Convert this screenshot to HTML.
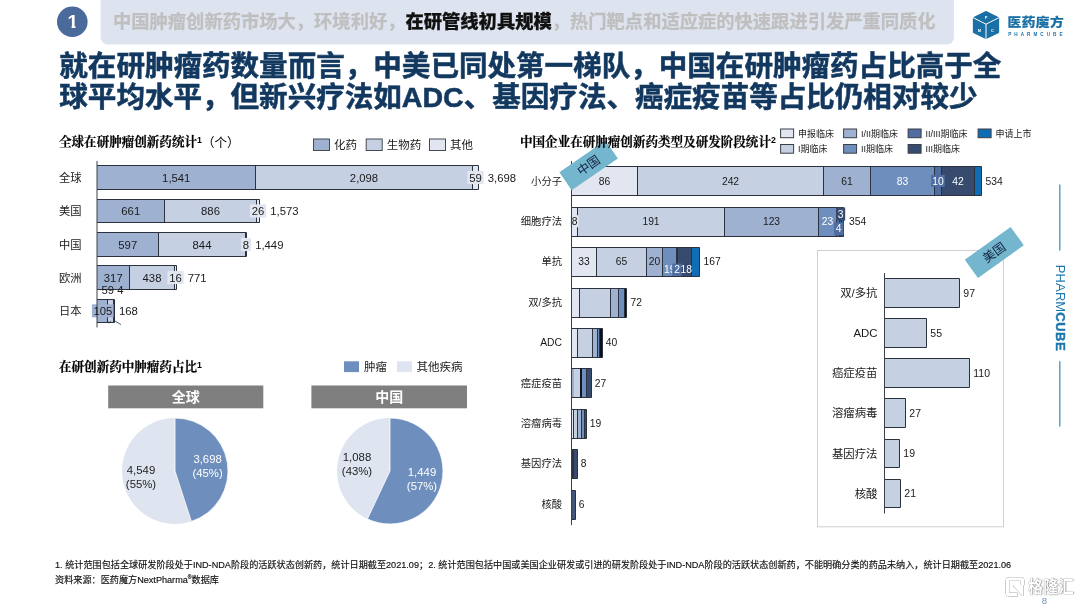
<!DOCTYPE html>
<html lang="zh"><head><meta charset="utf-8"><title>slide</title><style>
html,body{margin:0;padding:0;background:#fff}
body{width:1080px;height:604px;position:relative;overflow:hidden;font-family:"Liberation Sans","Noto Sans CJK SC",sans-serif;color:#1a1a1a}
svg{position:absolute;left:0;top:0}
svg text{font-family:"Liberation Sans","Noto Sans CJK SC",sans-serif}
div{position:absolute;white-space:nowrap}
.banner{left:113px;top:9.3px;font-size:18.3px;line-height:26px;font-weight:bold;color:#BFBFBF;-webkit-text-stroke:0.25px currentColor}
.banner b{color:#111}
.headline{left:59.3px;top:51.4px;font-size:28.55px;line-height:31px;font-weight:bold;color:#12385F;-webkit-text-stroke:0.55px #12385F}
.logo1{left:1007.6px;top:13.4px;-webkit-text-stroke:0.2px #1A6FA5;font-size:13.7px;line-height:20px;font-weight:900;color:#1A6FA5;letter-spacing:0.45px;transform:scaleY(0.9);transform-origin:0 50%}
.logo2{left:1008.2px;top:31.6px;font-size:4.6px;line-height:6px;font-weight:bold;color:#1A6FA5;letter-spacing:3.05px}
.side{left:1059.8px;top:307.6px;font-size:13px;line-height:14px;color:#1E78AE;transform:translate(-50%,-50%) rotate(90deg);letter-spacing:0.1px}
.side b{letter-spacing:0.5px;-webkit-text-stroke:0.45px #1E78AE}
.ttl{font-family:"Liberation Serif","Noto Serif CJK SC",serif;font-weight:bold;font-size:12.55px;line-height:18px;color:#000;-webkit-text-stroke:0.2px #000}
.ttl sup{font-size:8.8px;line-height:0;vertical-align:3.5px;font-family:"Liberation Sans","Noto Sans CJK SC",sans-serif;-webkit-text-stroke:0}
.ttl .n{position:relative;top:0.8px;-webkit-text-stroke:0;font-weight:normal;font-family:"Liberation Sans","Noto Sans CJK SC",sans-serif}
.foot{left:55px;-webkit-text-stroke:0.15px #111;font-size:9.13px;line-height:11px;color:#111}
.foot sup{font-size:5px;line-height:0}
.wm{left:1028px;top:575.4px;font-size:15.2px;line-height:24px;font-weight:bold;color:#fff;transform:scaleY(1.12);text-shadow:0 0 1px rgba(0,0,0,.45),0.6px 0.7px 1.2px rgba(0,0,0,.5)}
.pg{left:1041.7px;top:596.3px;font-size:9.5px;line-height:10px;color:#6F8FC0}
</style></head><body>
<svg width="1080" height="604" viewBox="0 0 1080 604">
<path d="M100.6 -5 H953.9 V37.6 a7 7 0 0 1 -7 7 H107.6 a7 7 0 0 1 -7 -7 Z" fill="#DEE4EF"/>
<circle cx="72.3" cy="21.8" r="15.3" fill="#4A6A9B"/>
<clipPath id="c1"><path d="M60 8 H86 V25.6 H75.4 V31 H71.6 V25.6 H60 Z"/></clipPath>
<path d="M986 11.7 L998.5 17.9 V32.3 L986 38.5 L973.5 32.3 V17.9 Z" fill="#1A6FA5" stroke="#1A6FA5" stroke-width="1.3" stroke-linejoin="round"/>
<path d="M973 17.6 L986 24.2 L999 17.6 M986 24.2 V39.4" fill="none" stroke="#fff" stroke-width="1"/>
<line x1="1059.80" y1="184.50" x2="1059.80" y2="250.40" stroke="#4F9BC4" stroke-width="1.4" />
<line x1="1059.80" y1="361.20" x2="1059.80" y2="426.60" stroke="#4F9BC4" stroke-width="1.4" />
<rect x="313.50" y="139.00" width="16.00" height="11.50" fill="#9FB1D0" stroke="#454a52" stroke-width="1" />
<rect x="366.20" y="139.00" width="16.00" height="11.50" fill="#C5D0E3" stroke="#454a52" stroke-width="1" />
<rect x="429.50" y="139.00" width="16.00" height="11.50" fill="#E1E6F0" stroke="#454a52" stroke-width="1" />
<rect x="97.00" y="165.50" width="158.50" height="24.00" fill="#9FB1D0"/>
<rect x="255.50" y="165.50" width="217.00" height="24.00" fill="#C5D0E3"/>
<rect x="472.50" y="165.50" width="6.00" height="24.00" fill="#E1E6F0"/>
<path d="M97.0 165.5 H478.5 V189.5 H97.0" fill="none" stroke="#2b323e" stroke-width="1"/>
<line x1="255.50" y1="165.50" x2="255.50" y2="189.50" stroke="#2b323e" stroke-width="1" />
<line x1="472.50" y1="165.50" x2="472.50" y2="189.50" stroke="#2b323e" stroke-width="1" />
<rect x="467.40" y="170.90" width="16.20" height="13.20" fill="#E1E6F0"/>
<rect x="97.00" y="199.50" width="67.50" height="23.00" fill="#9FB1D0"/>
<rect x="164.50" y="199.50" width="92.00" height="23.00" fill="#C5D0E3"/>
<rect x="256.50" y="199.50" width="3.00" height="23.00" fill="#E1E6F0"/>
<path d="M97.0 199.5 H259.5 V222.5 H97.0" fill="none" stroke="#2b323e" stroke-width="1"/>
<line x1="164.50" y1="199.50" x2="164.50" y2="222.50" stroke="#2b323e" stroke-width="1" />
<line x1="256.50" y1="199.50" x2="256.50" y2="222.50" stroke="#2b323e" stroke-width="1" />
<rect x="249.90" y="204.40" width="16.20" height="13.20" fill="#E1E6F0"/>
<rect x="97.00" y="232.50" width="61.50" height="24.00" fill="#9FB1D0"/>
<rect x="158.50" y="232.50" width="87.00" height="24.00" fill="#C5D0E3"/>
<rect x="245.50" y="232.50" width="1.00" height="24.00" fill="#E1E6F0"/>
<path d="M97.0 232.5 H246.5 V256.5 H97.0" fill="none" stroke="#2b323e" stroke-width="1"/>
<line x1="158.50" y1="232.50" x2="158.50" y2="256.50" stroke="#2b323e" stroke-width="1" />
<line x1="245.50" y1="232.50" x2="245.50" y2="256.50" stroke="#2b323e" stroke-width="1" />
<rect x="241.05" y="237.90" width="9.90" height="13.20" fill="#E1E6F0"/>
<rect x="97.00" y="265.50" width="32.50" height="24.00" fill="#9FB1D0"/>
<rect x="129.50" y="265.50" width="45.00" height="24.00" fill="#C5D0E3"/>
<rect x="174.50" y="265.50" width="2.00" height="24.00" fill="#E1E6F0"/>
<path d="M97.0 265.5 H176.5 V289.5 H97.0" fill="none" stroke="#2b323e" stroke-width="1"/>
<line x1="129.50" y1="265.50" x2="129.50" y2="289.50" stroke="#2b323e" stroke-width="1" />
<line x1="174.50" y1="265.50" x2="174.50" y2="289.50" stroke="#2b323e" stroke-width="1" />
<rect x="167.40" y="270.90" width="16.20" height="13.20" fill="#E1E6F0"/>
<rect x="97.00" y="299.50" width="10.50" height="23.00" fill="#9FB1D0"/>
<rect x="107.50" y="299.50" width="6.00" height="23.00" fill="#C5D0E3"/>
<rect x="113.50" y="299.50" width="1.00" height="23.00" fill="#E1E6F0"/>
<path d="M97.0 299.5 H114.5 V322.5 H97.0" fill="none" stroke="#2b323e" stroke-width="1"/>
<line x1="107.50" y1="299.50" x2="107.50" y2="322.50" stroke="#2b323e" stroke-width="1" />
<line x1="113.50" y1="299.50" x2="113.50" y2="322.50" stroke="#2b323e" stroke-width="1" />
<rect x="91.90" y="304.30" width="21.70" height="13.00" fill="#9FB1D0"/>
<path d="M107.6 321 l1.2 2.2 l2.2 -2.4 M114.6 320.8 l6.4 3.8" fill="none" stroke="#2b323e" stroke-width="0.8"/>
<line x1="97.00" y1="161.00" x2="97.00" y2="327.40" stroke="#3a4048" stroke-width="1" />
<rect x="344.00" y="361.30" width="15.00" height="10.80" fill="#6E8FBD" />
<rect x="397.00" y="361.30" width="15.00" height="10.80" fill="#DEE4F0" />
<rect x="108.20" y="385.50" width="155.10" height="22.80" fill="#7F7F7F" />
<circle cx="175" cy="471" r="53" fill="#DEE4F0"/>
<path d="M175 471 L175 418 A53 53 0 0 1 191.38 521.41 Z" fill="#6E8FBD" stroke="#fff" stroke-width="0.8" stroke-linejoin="round"/>
<rect x="311.40" y="385.50" width="155.60" height="22.80" fill="#7F7F7F" />
<circle cx="390" cy="471" r="53" fill="#DEE4F0"/>
<path d="M390 471 L390 418 A53 53 0 1 1 367.43 518.96 Z" fill="#6E8FBD" stroke="#fff" stroke-width="0.8" stroke-linejoin="round"/>
<rect x="780.60" y="129.00" width="13.00" height="8.70" fill="#E1E6F0" stroke="#3a3f48" stroke-width="1" />
<rect x="843.60" y="129.00" width="13.00" height="8.70" fill="#9FB1D0" stroke="#3a3f48" stroke-width="1" />
<rect x="908.10" y="129.00" width="13.00" height="8.70" fill="#4F6DA0" stroke="#3a3f48" stroke-width="1" />
<rect x="978.10" y="129.00" width="13.00" height="8.70" fill="#0F6DB5" stroke="#3a3f48" stroke-width="1" />
<rect x="780.60" y="144.50" width="13.00" height="8.70" fill="#C5D0E3" stroke="#3a3f48" stroke-width="1" />
<rect x="843.60" y="144.50" width="13.00" height="8.70" fill="#6E8FBD" stroke="#3a3f48" stroke-width="1" />
<rect x="908.10" y="144.50" width="13.00" height="8.70" fill="#374B6E" stroke="#3a3f48" stroke-width="1" />
<rect x="571.50" y="166.50" width="66.00" height="29.00" fill="#E1E6F0"/>
<rect x="637.50" y="166.50" width="186.00" height="29.00" fill="#C5D0E3"/>
<rect x="823.50" y="166.50" width="47.00" height="29.00" fill="#9FB1D0"/>
<rect x="870.50" y="166.50" width="64.00" height="29.00" fill="#6E8FBD"/>
<rect x="934.50" y="166.50" width="7.00" height="29.00" fill="#4F6DA0"/>
<rect x="941.50" y="166.50" width="33.00" height="29.00" fill="#374B6E"/>
<rect x="974.50" y="166.50" width="7.00" height="29.00" fill="#0F6DB5"/>
<path d="M571.5 166.5 H981.5 V195.5 H571.5" fill="none" stroke="#2b323e" stroke-width="1"/>
<line x1="637.50" y1="166.50" x2="637.50" y2="195.50" stroke="#2b323e" stroke-width="1" />
<line x1="823.50" y1="166.50" x2="823.50" y2="195.50" stroke="#2b323e" stroke-width="1" />
<line x1="870.50" y1="166.50" x2="870.50" y2="195.50" stroke="#2b323e" stroke-width="1" />
<line x1="934.50" y1="166.50" x2="934.50" y2="195.50" stroke="#2b323e" stroke-width="1" />
<line x1="941.50" y1="166.50" x2="941.50" y2="195.50" stroke="#2b323e" stroke-width="1" />
<line x1="974.50" y1="166.50" x2="974.50" y2="195.50" stroke="#2b323e" stroke-width="1" />
<rect x="931.20" y="174.90" width="13.60" height="12.00" fill="#4F6DA0"/>
<rect x="571.50" y="207.50" width="6.00" height="29.00" fill="#E1E6F0"/>
<rect x="577.50" y="207.50" width="147.00" height="29.00" fill="#C5D0E3"/>
<rect x="724.50" y="207.50" width="94.00" height="29.00" fill="#9FB1D0"/>
<rect x="818.50" y="207.50" width="18.00" height="29.00" fill="#6E8FBD"/>
<rect x="836.50" y="207.50" width="3.00" height="29.00" fill="#4F6DA0"/>
<rect x="839.50" y="207.50" width="2.00" height="29.00" fill="#374B6E"/>
<rect x="841.50" y="207.50" width="2.00" height="29.00" fill="#0F6DB5"/>
<path d="M571.5 207.5 H843.5 V236.5 H571.5" fill="none" stroke="#2b323e" stroke-width="1"/>
<line x1="577.50" y1="207.50" x2="577.50" y2="236.50" stroke="#2b323e" stroke-width="1" />
<line x1="724.50" y1="207.50" x2="724.50" y2="236.50" stroke="#2b323e" stroke-width="1" />
<line x1="818.50" y1="207.50" x2="818.50" y2="236.50" stroke="#2b323e" stroke-width="1" />
<line x1="836.50" y1="207.50" x2="836.50" y2="236.50" stroke="#2b323e" stroke-width="1" />
<line x1="839.50" y1="207.50" x2="839.50" y2="236.50" stroke="#2b323e" stroke-width="1" />
<line x1="841.50" y1="207.50" x2="841.50" y2="236.50" stroke="#2b323e" stroke-width="1" />
<rect x="570.50" y="215.20" width="8.00" height="12.00" fill="#E1E6F0"/>
<rect x="836.10" y="207.50" width="9.10" height="13.00" fill="#374B6E"/>
<rect x="834.00" y="222.30" width="9.50" height="12.80" fill="#4F6DA0"/>
<rect x="571.50" y="247.50" width="25.00" height="29.00" fill="#E1E6F0"/>
<rect x="596.50" y="247.50" width="50.00" height="29.00" fill="#C5D0E3"/>
<rect x="646.50" y="247.50" width="16.00" height="29.00" fill="#9FB1D0"/>
<rect x="662.50" y="247.50" width="14.00" height="29.00" fill="#6E8FBD"/>
<rect x="676.50" y="247.50" width="1.00" height="29.00" fill="#4F6DA0"/>
<rect x="677.50" y="247.50" width="14.00" height="29.00" fill="#374B6E"/>
<rect x="691.50" y="247.50" width="8.00" height="29.00" fill="#0F6DB5"/>
<path d="M571.5 247.5 H699.5 V276.5 H571.5" fill="none" stroke="#2b323e" stroke-width="1"/>
<line x1="596.50" y1="247.50" x2="596.50" y2="276.50" stroke="#2b323e" stroke-width="1" />
<line x1="646.50" y1="247.50" x2="646.50" y2="276.50" stroke="#2b323e" stroke-width="1" />
<line x1="662.50" y1="247.50" x2="662.50" y2="276.50" stroke="#2b323e" stroke-width="1" />
<line x1="676.50" y1="247.50" x2="676.50" y2="276.50" stroke="#2b323e" stroke-width="1" />
<line x1="677.50" y1="247.50" x2="677.50" y2="276.50" stroke="#2b323e" stroke-width="1" />
<line x1="691.50" y1="247.50" x2="691.50" y2="276.50" stroke="#2b323e" stroke-width="1" />
<text x="669.70" y="272.91" font-size="10.3" fill="#fff" text-anchor="middle" font-weight="normal" >19</text>
<rect x="672.20" y="263.60" width="9.40" height="12.40" fill="#4F6DA0"/>
<rect x="571.50" y="288.50" width="8.00" height="29.00" fill="#E1E6F0"/>
<rect x="579.50" y="288.50" width="31.00" height="29.00" fill="#C5D0E3"/>
<rect x="610.50" y="288.50" width="8.00" height="29.00" fill="#9FB1D0"/>
<rect x="618.50" y="288.50" width="6.00" height="29.00" fill="#6E8FBD"/>
<rect x="624.50" y="288.50" width="2.00" height="29.00" fill="#070b14"/>
<path d="M571.5 288.5 H626.5 V317.5 H571.5" fill="none" stroke="#2b323e" stroke-width="1"/>
<line x1="579.50" y1="288.50" x2="579.50" y2="317.50" stroke="#2b323e" stroke-width="1" />
<line x1="610.50" y1="288.50" x2="610.50" y2="317.50" stroke="#2b323e" stroke-width="1" />
<line x1="618.50" y1="288.50" x2="618.50" y2="317.50" stroke="#2b323e" stroke-width="1" />
<line x1="624.50" y1="288.50" x2="624.50" y2="317.50" stroke="#2b323e" stroke-width="1" />
<rect x="571.50" y="328.50" width="6.00" height="29.00" fill="#E1E6F0"/>
<rect x="577.50" y="328.50" width="15.00" height="29.00" fill="#C5D0E3"/>
<rect x="592.50" y="328.50" width="5.00" height="29.00" fill="#9FB1D0"/>
<rect x="597.50" y="328.50" width="2.00" height="29.00" fill="#6E8FBD"/>
<rect x="599.50" y="328.50" width="3.00" height="29.00" fill="#0b101c"/>
<path d="M571.5 328.5 H602.5 V357.5 H571.5" fill="none" stroke="#2b323e" stroke-width="1"/>
<line x1="577.50" y1="328.50" x2="577.50" y2="357.50" stroke="#2b323e" stroke-width="1" />
<line x1="592.50" y1="328.50" x2="592.50" y2="357.50" stroke="#2b323e" stroke-width="1" />
<line x1="597.50" y1="328.50" x2="597.50" y2="357.50" stroke="#2b323e" stroke-width="1" />
<line x1="599.50" y1="328.50" x2="599.50" y2="357.50" stroke="#2b323e" stroke-width="1" />
<rect x="571.50" y="368.50" width="3.00" height="29.00" fill="#A0ADC6"/>
<rect x="574.50" y="368.50" width="6.00" height="29.00" fill="#C5D0E3"/>
<rect x="580.50" y="368.50" width="6.00" height="29.00" fill="#6E8FBD"/>
<rect x="586.50" y="368.50" width="5.00" height="29.00" fill="#374B6E"/>
<path d="M571.5 368.5 H591.5 V397.5 H571.5" fill="none" stroke="#2b323e" stroke-width="1"/>
<line x1="581.00" y1="368.50" x2="581.00" y2="397.50" stroke="#10151f" stroke-width="2" />
<line x1="586.50" y1="368.50" x2="586.50" y2="397.50" stroke="#2b323e" stroke-width="1" />
<rect x="571.50" y="409.50" width="2.00" height="29.00" fill="#E1E6F0"/>
<rect x="573.50" y="409.50" width="4.00" height="29.00" fill="#C5D0E3"/>
<rect x="577.50" y="409.50" width="4.00" height="29.00" fill="#9FB1D0"/>
<rect x="581.50" y="409.50" width="3.00" height="29.00" fill="#6E8FBD"/>
<rect x="584.50" y="409.50" width="2.00" height="29.00" fill="#374B6E"/>
<path d="M571.5 409.5 H586.5 V438.5 H571.5" fill="none" stroke="#2b323e" stroke-width="1"/>
<line x1="573.50" y1="409.50" x2="573.50" y2="438.50" stroke="#2b323e" stroke-width="1" />
<line x1="577.50" y1="409.50" x2="577.50" y2="438.50" stroke="#2b323e" stroke-width="1" />
<line x1="581.50" y1="409.50" x2="581.50" y2="438.50" stroke="#2b323e" stroke-width="1" />
<line x1="584.50" y1="409.50" x2="584.50" y2="438.50" stroke="#2b323e" stroke-width="1" />
<rect x="571.50" y="449.50" width="1.00" height="29.00" fill="#8E9DBB"/>
<rect x="572.50" y="449.50" width="1.00" height="29.00" fill="#10151f"/>
<rect x="573.50" y="449.50" width="4.00" height="29.00" fill="#374B6E"/>
<path d="M571.5 449.5 H577.5 V478.5 H571.5" fill="none" stroke="#2b323e" stroke-width="1"/>
<line x1="572.50" y1="449.50" x2="572.50" y2="478.50" stroke="#2b323e" stroke-width="1" />
<line x1="573.50" y1="449.50" x2="573.50" y2="478.50" stroke="#2b323e" stroke-width="1" />
<rect x="571.50" y="490.50" width="4.00" height="29.00" fill="#42567A"/>
<path d="M571.5 490.5 H575.5 V519.5 H571.5" fill="none" stroke="#2b323e" stroke-width="1"/>
<line x1="571.50" y1="161.00" x2="571.50" y2="525.20" stroke="#3a4048" stroke-width="1" />
<rect x="817.50" y="250.50" width="186.00" height="276.30" fill="#fff" stroke="#CFCFCF" stroke-width="1" />
<rect x="884.50" y="278.50" width="75.00" height="29.00" fill="#C5D0E3"/>
<path d="M884.5 278.5 H959.5 V307.5 H884.5" fill="none" stroke="#2b323e" stroke-width="1"/>
<rect x="884.50" y="318.50" width="42.00" height="29.00" fill="#C5D0E3"/>
<path d="M884.5 318.5 H926.5 V347.5 H884.5" fill="none" stroke="#2b323e" stroke-width="1"/>
<rect x="884.50" y="358.50" width="85.00" height="29.00" fill="#C5D0E3"/>
<path d="M884.5 358.5 H969.5 V387.5 H884.5" fill="none" stroke="#2b323e" stroke-width="1"/>
<rect x="884.50" y="398.50" width="21.00" height="29.00" fill="#C5D0E3"/>
<path d="M884.5 398.5 H905.5 V427.5 H884.5" fill="none" stroke="#2b323e" stroke-width="1"/>
<rect x="884.50" y="439.50" width="15.00" height="28.00" fill="#C5D0E3"/>
<path d="M884.5 439.5 H899.5 V467.5 H884.5" fill="none" stroke="#2b323e" stroke-width="1"/>
<rect x="884.50" y="479.50" width="16.00" height="28.00" fill="#C5D0E3"/>
<path d="M884.5 479.5 H900.5 V507.5 H884.5" fill="none" stroke="#2b323e" stroke-width="1"/>
<line x1="884.50" y1="273.00" x2="884.50" y2="513.50" stroke="#3a4048" stroke-width="1" />
<g transform="translate(588.6 165.4) rotate(-34.5)"><rect x="-28.0" y="-10.9" width="56" height="21.8" fill="#74B6CD"/></g>
<g transform="translate(994.3 252.5) rotate(-35.6)"><rect x="-28.2" y="-11.3" width="56.4" height="22.6" fill="#74B6CD"/></g>
<g fill="none" stroke="#fff" stroke-width="3.6" stroke-linejoin="round" style="filter:drop-shadow(0 0 0.6px rgba(0,0,0,.45)) drop-shadow(0.6px 0.7px 0.7px rgba(0,0,0,.4))"><path d="M1022.6 585 V581.2 a2.2 2.2 0 0 0 -2.2 -2.2 H1009.6 a2.2 2.2 0 0 0 -2.2 2.2 V592.4 a2.2 2.2 0 0 0 2.2 2.2 H1017.5"/><path d="M1014 585.8 H1022.6 V595.2 Z" fill="#fff" stroke-width="1.6"/></g>
<text x="72.9" y="28.4" font-size="19" fill="#fff" text-anchor="middle" font-weight="bold" clip-path="url(#c1)">1</text>
<text x="986" y="19.2" font-size="4" fill="#fff" text-anchor="middle" font-weight="bold" font-family='"Liberation Serif",serif'>P</text>
<text x="979.5" y="31.5" font-size="4" fill="#fff" text-anchor="middle" font-weight="bold" font-family='"Liberation Serif",serif'>M</text>
<text x="992.5" y="31.5" font-size="4" fill="#fff" text-anchor="middle" font-weight="bold" font-family='"Liberation Serif",serif'>C</text>
<text x="334.00" y="149.34" font-size="11.5" fill="#1a1a1a" text-anchor="start" font-weight="normal" >化药</text>
<text x="386.70" y="149.34" font-size="11.5" fill="#1a1a1a" text-anchor="start" font-weight="normal" >生物药</text>
<text x="450.00" y="149.34" font-size="11.5" fill="#1a1a1a" text-anchor="start" font-weight="normal" >其他</text>
<text x="59.00" y="181.57" font-size="11.3" fill="#1a1a1a" text-anchor="start" font-weight="normal" >全球</text>
<text x="176.25" y="181.57" font-size="11.3" fill="#1a1a1a" text-anchor="middle" font-weight="normal" >1,541</text>
<text x="364.00" y="181.57" font-size="11.3" fill="#1a1a1a" text-anchor="middle" font-weight="normal" >2,098</text>
<text x="475.50" y="181.57" font-size="11.3" fill="#1a1a1a" text-anchor="middle" font-weight="normal" >59</text>
<text x="487.80" y="181.57" font-size="11.3" fill="#1a1a1a" text-anchor="start" font-weight="normal" >3,698</text>
<text x="59.00" y="215.07" font-size="11.3" fill="#1a1a1a" text-anchor="start" font-weight="normal" >美国</text>
<text x="130.75" y="215.07" font-size="11.3" fill="#1a1a1a" text-anchor="middle" font-weight="normal" >661</text>
<text x="210.50" y="215.07" font-size="11.3" fill="#1a1a1a" text-anchor="middle" font-weight="normal" >886</text>
<text x="258.00" y="215.07" font-size="11.3" fill="#1a1a1a" text-anchor="middle" font-weight="normal" >26</text>
<text x="270.30" y="215.07" font-size="11.3" fill="#1a1a1a" text-anchor="start" font-weight="normal" >1,573</text>
<text x="59.00" y="248.57" font-size="11.3" fill="#1a1a1a" text-anchor="start" font-weight="normal" >中国</text>
<text x="127.75" y="248.57" font-size="11.3" fill="#1a1a1a" text-anchor="middle" font-weight="normal" >597</text>
<text x="202.00" y="248.57" font-size="11.3" fill="#1a1a1a" text-anchor="middle" font-weight="normal" >844</text>
<text x="246.00" y="248.57" font-size="11.3" fill="#1a1a1a" text-anchor="middle" font-weight="normal" >8</text>
<text x="255.15" y="248.57" font-size="11.3" fill="#1a1a1a" text-anchor="start" font-weight="normal" >1,449</text>
<text x="59.00" y="281.57" font-size="11.3" fill="#1a1a1a" text-anchor="start" font-weight="normal" >欧洲</text>
<text x="113.25" y="281.57" font-size="11.3" fill="#1a1a1a" text-anchor="middle" font-weight="normal" >317</text>
<text x="152.00" y="281.57" font-size="11.3" fill="#1a1a1a" text-anchor="middle" font-weight="normal" >438</text>
<text x="175.50" y="281.57" font-size="11.3" fill="#1a1a1a" text-anchor="middle" font-weight="normal" >16</text>
<text x="187.80" y="281.57" font-size="11.3" fill="#1a1a1a" text-anchor="start" font-weight="normal" >771</text>
<text x="59.00" y="315.07" font-size="11.3" fill="#1a1a1a" text-anchor="start" font-weight="normal" >日本</text>
<text x="102.90" y="315.07" font-size="11.3" fill="#1a1a1a" text-anchor="middle" font-weight="normal" >105</text>
<text x="119.00" y="315.07" font-size="11.3" fill="#1a1a1a" text-anchor="start" font-weight="normal" >168</text>
<text x="101.50" y="294.37" font-size="11.3" fill="#1a1a1a" text-anchor="start" font-weight="normal" >59 4</text>
<text x="364.00" y="370.94" font-size="11.5" fill="#1a1a1a" text-anchor="start" font-weight="normal" >肿瘤</text>
<text x="416.50" y="370.94" font-size="11.5" fill="#1a1a1a" text-anchor="start" font-weight="normal" >其他疾病</text>
<text x="185.8" y="401.6" font-size="14" fill="#fff" text-anchor="middle" font-weight="bold">全球</text>
<text x="207.60" y="463.49" font-size="11.35" fill="#fff" text-anchor="middle" font-weight="normal" >3,698</text>
<text x="207.60" y="477.19" font-size="11.35" fill="#fff" text-anchor="middle" font-weight="normal" >(45%)</text>
<text x="141.00" y="474.09" font-size="11.35" fill="#222" text-anchor="middle" font-weight="normal" >4,549</text>
<text x="141.00" y="487.79" font-size="11.35" fill="#222" text-anchor="middle" font-weight="normal" >(55%)</text>
<text x="389.2" y="401.6" font-size="14" fill="#fff" text-anchor="middle" font-weight="bold">中国</text>
<text x="422.00" y="476.09" font-size="11.35" fill="#fff" text-anchor="middle" font-weight="normal" >1,449</text>
<text x="422.00" y="489.79" font-size="11.35" fill="#fff" text-anchor="middle" font-weight="normal" >(57%)</text>
<text x="357.00" y="461.09" font-size="11.35" fill="#222" text-anchor="middle" font-weight="normal" >1,088</text>
<text x="357.00" y="474.79" font-size="11.35" fill="#222" text-anchor="middle" font-weight="normal" >(43%)</text>
<text x="798.00" y="136.74" font-size="9" fill="#1a1a1a" text-anchor="start" font-weight="normal" >申报临床</text>
<text x="861.00" y="136.74" font-size="9" fill="#1a1a1a" text-anchor="start" font-weight="normal" >I/II期临床</text>
<text x="925.50" y="136.74" font-size="9" fill="#1a1a1a" text-anchor="start" font-weight="normal" >II/III期临床</text>
<text x="995.50" y="136.74" font-size="9" fill="#1a1a1a" text-anchor="start" font-weight="normal" >申请上市</text>
<text x="798.00" y="152.44" font-size="9" fill="#1a1a1a" text-anchor="start" font-weight="normal" >I期临床</text>
<text x="861.00" y="152.44" font-size="9" fill="#1a1a1a" text-anchor="start" font-weight="normal" >II期临床</text>
<text x="925.50" y="152.44" font-size="9" fill="#1a1a1a" text-anchor="start" font-weight="normal" >III期临床</text>
<text x="562.00" y="184.61" font-size="10.3" fill="#1a1a1a" text-anchor="end" font-weight="normal" >小分子</text>
<text x="985.50" y="184.61" font-size="10.3" fill="#1a1a1a" text-anchor="start" font-weight="normal" >534</text>
<text x="604.50" y="184.61" font-size="10.3" fill="#1a1a1a" text-anchor="middle" font-weight="normal" >86</text>
<text x="730.50" y="184.61" font-size="10.3" fill="#1a1a1a" text-anchor="middle" font-weight="normal" >242</text>
<text x="847.00" y="184.61" font-size="10.3" fill="#1a1a1a" text-anchor="middle" font-weight="normal" >61</text>
<text x="902.50" y="184.61" font-size="10.3" fill="#fff" text-anchor="middle" font-weight="normal" >83</text>
<text x="938.00" y="184.61" font-size="10.3" fill="#fff" text-anchor="middle" font-weight="normal" >10</text>
<text x="958.00" y="184.61" font-size="10.3" fill="#fff" text-anchor="middle" font-weight="normal" >42</text>
<text x="562.00" y="224.91" font-size="10.3" fill="#1a1a1a" text-anchor="end" font-weight="normal" >细胞疗法</text>
<text x="849.10" y="224.91" font-size="10.3" fill="#1a1a1a" text-anchor="start" font-weight="normal" >354</text>
<text x="574.50" y="224.91" font-size="10.3" fill="#1a1a1a" text-anchor="middle" font-weight="normal" >8</text>
<text x="651.00" y="224.91" font-size="10.3" fill="#1a1a1a" text-anchor="middle" font-weight="normal" >191</text>
<text x="771.50" y="224.91" font-size="10.3" fill="#1a1a1a" text-anchor="middle" font-weight="normal" >123</text>
<text x="827.50" y="224.91" font-size="10.3" fill="#fff" text-anchor="middle" font-weight="normal" >23</text>
<text x="840.60" y="217.51" font-size="10.3" fill="#fff" text-anchor="middle" font-weight="normal" >3</text>
<text x="838.70" y="232.41" font-size="10.3" fill="#fff" text-anchor="middle" font-weight="normal" >4</text>
<text x="562.00" y="264.91" font-size="10.3" fill="#1a1a1a" text-anchor="end" font-weight="normal" >单抗</text>
<text x="703.50" y="264.91" font-size="10.3" fill="#1a1a1a" text-anchor="start" font-weight="normal" >167</text>
<text x="584.00" y="264.91" font-size="10.3" fill="#1a1a1a" text-anchor="middle" font-weight="normal" >33</text>
<text x="621.50" y="264.91" font-size="10.3" fill="#1a1a1a" text-anchor="middle" font-weight="normal" >65</text>
<text x="654.50" y="264.91" font-size="10.3" fill="#1a1a1a" text-anchor="middle" font-weight="normal" >20</text>
<text x="677.20" y="272.91" font-size="10.3" fill="#fff" text-anchor="middle" font-weight="normal" >2</text>
<text x="686.20" y="272.91" font-size="10.3" fill="#fff" text-anchor="middle" font-weight="normal" >18</text>
<text x="562.00" y="305.91" font-size="10.3" fill="#1a1a1a" text-anchor="end" font-weight="normal" >双/多抗</text>
<text x="630.50" y="305.91" font-size="10.3" fill="#1a1a1a" text-anchor="start" font-weight="normal" >72</text>
<text x="562.00" y="345.91" font-size="10.3" fill="#1a1a1a" text-anchor="end" font-weight="normal" >ADC</text>
<text x="605.70" y="345.91" font-size="10.3" fill="#1a1a1a" text-anchor="start" font-weight="normal" >40</text>
<text x="562.00" y="387.01" font-size="10.3" fill="#1a1a1a" text-anchor="end" font-weight="normal" >癌症疫苗</text>
<text x="594.70" y="387.01" font-size="10.3" fill="#1a1a1a" text-anchor="start" font-weight="normal" >27</text>
<text x="562.00" y="427.31" font-size="10.3" fill="#1a1a1a" text-anchor="end" font-weight="normal" >溶瘤病毒</text>
<text x="589.70" y="427.31" font-size="10.3" fill="#1a1a1a" text-anchor="start" font-weight="normal" >19</text>
<text x="562.00" y="467.31" font-size="10.3" fill="#1a1a1a" text-anchor="end" font-weight="normal" >基因疗法</text>
<text x="580.70" y="467.31" font-size="10.3" fill="#1a1a1a" text-anchor="start" font-weight="normal" >8</text>
<text x="562.00" y="508.31" font-size="10.3" fill="#1a1a1a" text-anchor="end" font-weight="normal" >核酸</text>
<text x="578.70" y="508.31" font-size="10.3" fill="#1a1a1a" text-anchor="start" font-weight="normal" >6</text>
<text x="877.50" y="297.10" font-size="11.4" fill="#1a1a1a" text-anchor="end" font-weight="normal" >双/多抗</text>
<text x="963.30" y="296.78" font-size="10.5" fill="#1a1a1a" text-anchor="start" font-weight="normal" >97</text>
<text x="877.50" y="337.10" font-size="11.4" fill="#1a1a1a" text-anchor="end" font-weight="normal" >ADC</text>
<text x="930.30" y="336.78" font-size="10.5" fill="#1a1a1a" text-anchor="start" font-weight="normal" >55</text>
<text x="877.50" y="377.10" font-size="11.4" fill="#1a1a1a" text-anchor="end" font-weight="normal" >癌症疫苗</text>
<text x="973.30" y="376.78" font-size="10.5" fill="#1a1a1a" text-anchor="start" font-weight="normal" >110</text>
<text x="877.50" y="417.10" font-size="11.4" fill="#1a1a1a" text-anchor="end" font-weight="normal" >溶瘤病毒</text>
<text x="909.30" y="416.78" font-size="10.5" fill="#1a1a1a" text-anchor="start" font-weight="normal" >27</text>
<text x="877.50" y="457.60" font-size="11.4" fill="#1a1a1a" text-anchor="end" font-weight="normal" >基因疗法</text>
<text x="903.30" y="457.28" font-size="10.5" fill="#1a1a1a" text-anchor="start" font-weight="normal" >19</text>
<text x="877.50" y="497.60" font-size="11.4" fill="#1a1a1a" text-anchor="end" font-weight="normal" >核酸</text>
<text x="904.30" y="497.28" font-size="10.5" fill="#1a1a1a" text-anchor="start" font-weight="normal" >21</text>
<text transform="translate(588.6 165.4) rotate(-34.5)" x="0" y="4.3" font-size="12.3" fill="#13213f" text-anchor="middle">中国</text>
<text transform="translate(994.3 252.5) rotate(-35.6)" x="0" y="4.3" font-size="12.3" fill="#13213f" text-anchor="middle">美国</text>
</svg>
<div class="banner"><span>中国肿瘤创新药市场大，环境利好，</span><b>在研管线初具规模</b><span>，热门靶点和适应症的快速跟进引发严重同质化</span></div>
<div class="headline">就在研肿瘤药数量而言，中美已同处第一梯队，中国在研肿瘤药占比高于全<br>球平均水平，但新兴疗法如ADC、基因疗法、癌症疫苗等占比仍相对较少</div>
<div class="logo1">医药魔方</div>
<div class="logo2">PHARMCUBE</div>
<div class="side">PHARM<b>CUBE</b></div>
<div class="ttl" style="left:59px;top:133px">全球在研肿瘤创新药统计<sup>1</sup><span class="n">（个）</span></div>
<div class="ttl" style="left:59px;top:358.3px">在研创新药中肿瘤药占比<sup>1</sup></div>
<div class="ttl" style="left:520px;top:133px">中国企业在研肿瘤创新药类型及研发阶段统计<sup>2</sup></div>
<div class="foot" style="top:560.2px">1. 统计范围包括全球研发阶段处于IND-NDA阶段的活跃状态创新药，统计日期截至2021.09；2. 统计范围包括中国或美国企业研发或引进的研发阶段处于IND-NDA阶段的活跃状态创新药，不能明确分类的药品未纳入，统计日期截至2021.06</div>
<div class="foot" style="top:574.6px">资料来源：医药魔方NextPharma<sup>®</sup>数据库</div>
<div class="wm">格隆汇</div>
<div class="pg">8</div>
</body></html>
